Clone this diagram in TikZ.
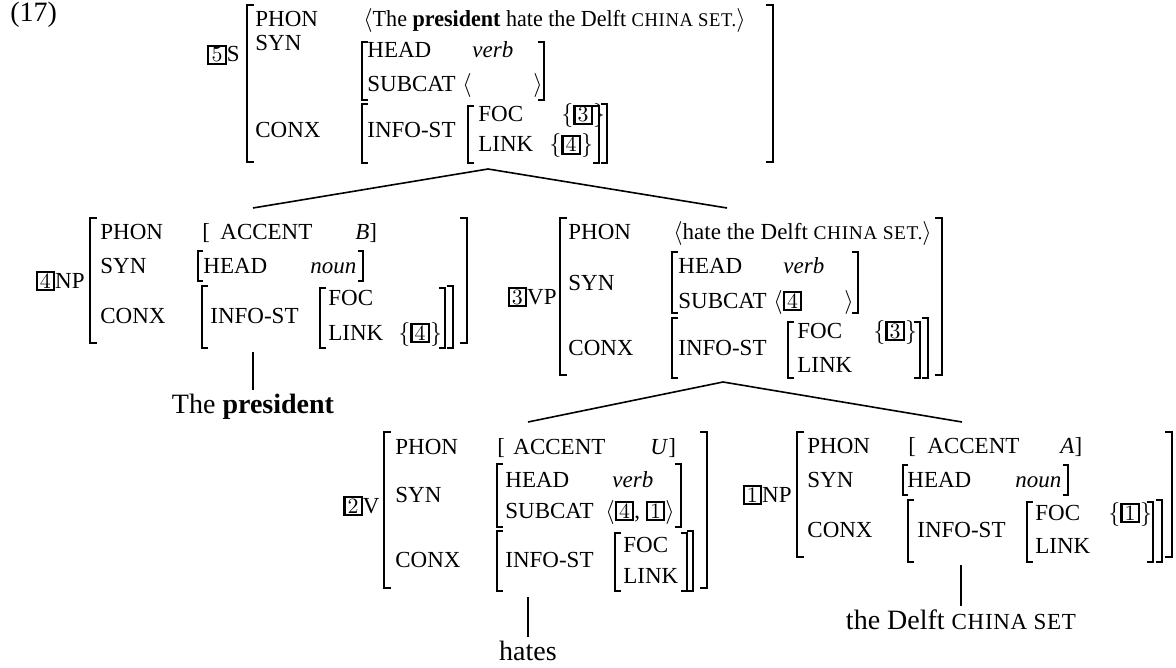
\documentclass[tikz,border=0pt]{standalone}
\usepackage[no-math]{fontspec}
\setmainfont{Liberation Serif}
\usepackage{tikz}
\usetikzlibrary{positioning}
\newcommand{\avmfont}{\fontsize{11.5pt}{13pt}\selectfont}
\newcommand{\wordfont}{\fontsize{14pt}{16pt}\selectfont}
\newcommand{\avmsc}[1]{{\fontsize{9.7pt}{10pt}\selectfont\addfontfeatures{LetterSpace=3}#1}}
\newcommand{\wordsc}[1]{{\fontsize{11.5pt}{12pt}\selectfont\addfontfeatures{LetterSpace=3}#1}}
\newcommand{\tagnum}[1]{{\setlength{\fboxsep}{0.3pt}\setlength{\fboxrule}{1.1pt}%
  \fbox{\makebox[7pt]{\fontsize{10.5pt}{10.5pt}\selectfont$#1$}}}}
% brackets: [serif]{x}{top}{bottom}
\newcommand{\lbrk}[4][7]{\draw[Brk] ({#2+#1},#3) -- (#2,#3) -- (#2,#4) -- ({#2+#1},#4);}
\newcommand{\rbrk}[4][7]{\draw[Brk] ({#2-#1},#3) -- (#2,#3) -- (#2,#4) -- ({#2-#1},#4);}
\tikzset{
Attr/.style={
	anchor=base west,
	inner sep=0pt,
	font=\avmfont
},
Val/.style={
	Attr,
	font=\avmfont\itshape
},
Cat/.style={
	anchor=base east,
	inner sep=0pt,
	font=\avmfont
},
Word/.style={
	anchor=base,
	inner xsep=0pt,
	inner ysep=1.5pt,
	font=\wordfont
},
Brk/.style={
	line width=0.95pt
},
Edge/.style={
	draw=black,
	line width=0.8pt
},
Stem/.style={
	draw=black,
	line width=1pt
}
}

\begin{document}
\begin{tikzpicture}[x=0.5pt, y=-0.5pt]
	\useasboundingbox (0,0) rectangle (1176,668);
	\node[Word, anchor=base west] (ex-num) at (10,22) {(17)};

	% S
	\begin{scope}[shift={(247,5)}]
	\node[Cat] (s-cat) at (-7,57) {\tagnum{5}S};
	\node[Attr] (s-phon) at (8,22) {PHON};
	\node[Attr] (s-phon-v) at (116,22) {\addfontfeatures{FakeStretch=0.96}$\langle$The \textbf{president} hate the Delft \avmsc{CHINA SET.}$\rangle$};
	\node[Attr] (s-syn) at (8,46) {SYN};
	\node[Attr] (s-head) at (120,53) {HEAD};
	\node[Val] (s-head-v) at (225,53) {verb};
	\node[Attr] (s-subcat) at (120,87) {SUBCAT};
	\node[Attr] (s-subcat-l) at (215,87) {$\langle$};
	\node[Attr] (s-subcat-r) at (286,87) {$\rangle$};
	\node[Attr] (s-conx) at (8,133) {CONX};
	\node[Attr] (s-info) at (120,133) {INFO-ST};
	\node[Attr] (s-foc) at (231,117) {FOC};
	\node[Attr] (s-foc-v) at (314,117) {$\{$\tagnum{3}$\}$};
	\node[Attr] (s-link) at (231,147) {LINK};
	\node[Attr] (s-link-v) at (302,147) {$\{$\tagnum{4}$\}$};
	\lbrk{0}{0}{157} \rbrk{526}{0}{157}
	\lbrk[6]{115}{37}{95} \rbrk[6]{297}{37}{95}
	\lbrk[6]{115}{99}{158} \rbrk[6]{360}{99}{158}
	\lbrk[6]{221}{101}{158} \rbrk[6]{352}{101}{158}
	\coordinate (s-foot) at (241,164);
	\end{scope}

	% NP (4)
	\begin{scope}[shift={(90,218)}]
	\node[Cat] (np4-cat) at (-5,70) {\tagnum{4}NP};
	\node[Attr] (np4-phon) at (10,22) {PHON};
	\node[Attr] (np4-acc-l) at (112,22) {[};
	\node[Attr] (np4-acc) at (130,22) {ACCENT};
	\node[Attr] (np4-acc-v) at (265,22) {\textit{B}]};
	\node[Attr] (np4-syn) at (10,55) {SYN};
	\node[Attr] (np4-head) at (113,55) {HEAD};
	\node[Val] (np4-head-v) at (220,55) {noun};
	\node[Attr] (np4-conx) at (10,105) {CONX};
	\node[Attr] (np4-info) at (120,105) {INFO-ST};
	\node[Attr] (np4-foc) at (238,87) {FOC};
	\node[Attr] (np4-link) at (238,122) {LINK};
	\node[Attr] (np4-link-v) at (308,122) {$\{$\tagnum{4}$\}$};
	\lbrk{0}{0}{125} \rbrk{377}{0}{125}
	\lbrk[5]{108}{33}{63} \rbrk[5]{273}{33}{63}
	\lbrk[6]{112}{68}{130} \rbrk[6]{363}{68}{130}
	\lbrk[6]{230}{70}{130} \rbrk[6]{355}{70}{130}
	\coordinate (np4-top) at (163,-10);
	\coordinate (np4-stem) at (163,134);
	\node[Word] (np4-word) at (163,195) {The \textbf{president}};
	\end{scope}

	% VP (3)
	\begin{scope}[shift={(560,218)}]
	\node[Cat] (vp3-cat) at (-3,86) {\tagnum{3}VP};
	\node[Attr] (vp3-phon) at (8,22) {PHON};
	\node[Attr] (vp3-phon-v) at (113,22) {$\langle$hate the Delft \avmsc{CHINA SET.}$\rangle$};
	\node[Attr] (vp3-syn) at (8,72) {SYN};
	\node[Attr] (vp3-head) at (118,55) {HEAD};
	\node[Val] (vp3-head-v) at (223,55) {verb};
	\node[Attr] (vp3-subcat) at (118,90) {SUBCAT};
	\node[Attr] (vp3-subcat-l) at (213,90) {$\langle$\tagnum{4}};
	\node[Attr] (vp3-subcat-r) at (284,90) {$\rangle$};
	\node[Attr] (vp3-conx) at (8,137) {CONX};
	\node[Attr] (vp3-info) at (118,137) {INFO-ST};
	\node[Attr] (vp3-foc) at (237,120) {FOC};
	\node[Attr] (vp3-foc-v) at (313,120) {$\{$\tagnum{3}$\}$};
	\node[Attr] (vp3-link) at (237,154) {LINK};
	\lbrk{0}{0}{157} \rbrk{382}{0}{157}
	\lbrk[6]{112}{34}{95} \rbrk[6]{298}{34}{95}
	\lbrk[6]{112}{100}{160} \rbrk[6]{368}{100}{160}
	\lbrk[6]{228}{104}{160} \rbrk[6]{360}{104}{160}
	\coordinate (vp3-top) at (167,-10);
	\coordinate (vp3-foot) at (163,164);
	\end{scope}

	% V (2)
	\begin{scope}[shift={(384,432)}]
	\node[Cat] (v2-cat) at (-4,81) {\tagnum{2}V};
	\node[Attr] (v2-phon) at (11,22) {PHON};
	\node[Attr] (v2-acc-l) at (113,22) {[};
	\node[Attr] (v2-acc) at (129,22) {ACCENT};
	\node[Attr] (v2-acc-v) at (266,22) {\textit{U}]};
	\node[Attr] (v2-syn) at (11,70) {SYN};
	\node[Attr] (v2-head) at (121,55) {HEAD};
	\node[Val] (v2-head-v) at (228,55) {verb};
	\node[Attr] (v2-subcat) at (121,86) {SUBCAT};
	\node[Attr] (v2-subcat-v) at (221,86) {$\langle$\tagnum{4}, \tagnum{1}$\rangle$};
	\node[Attr] (v2-conx) at (11,135) {CONX};
	\node[Attr] (v2-info) at (121,135) {INFO-ST};
	\node[Attr] (v2-foc) at (239,120) {FOC};
	\node[Attr] (v2-link) at (239,151) {LINK};
	\lbrk{0}{0}{156} \rbrk{323}{0}{156}
	\lbrk[6]{113}{32}{95} \rbrk[6]{297}{32}{95}
	\lbrk[6]{113}{99}{159} \rbrk[6]{309}{99}{159}
	\lbrk[6]{231}{101}{159} \rbrk[6]{303}{101}{159}
	\coordinate (v2-top) at (144,-10);
	\coordinate (v2-stem) at (144,165);
	\node[Word] (v2-word) at (144,228) {hates};
	\end{scope}

	% NP (1)
	\begin{scope}[shift={(797,432)}]
	\node[Cat] (np1-cat) at (-5,70) {\tagnum{1}NP};
	\node[Attr] (np1-phon) at (10,21) {PHON};
	\node[Attr] (np1-acc-l) at (111,21) {[};
	\node[Attr] (np1-acc) at (130,21) {ACCENT};
	\node[Attr] (np1-acc-v) at (263,21) {\textit{A}]};
	\node[Attr] (np1-syn) at (10,55) {SYN};
	\node[Attr] (np1-head) at (110,55) {HEAD};
	\node[Val] (np1-head-v) at (218,55) {noun};
	\node[Attr] (np1-conx) at (10,105) {CONX};
	\node[Attr] (np1-info) at (120,105) {INFO-ST};
	\node[Attr] (np1-foc) at (238,88) {FOC};
	\node[Attr] (np1-foc-v) at (311,88) {$\{$\tagnum{1}$\}$};
	\node[Attr] (np1-link) at (238,121) {LINK};
	\lbrk{0}{0}{125} \rbrk{375}{0}{125}
	\lbrk[5]{106}{33}{63} \rbrk[5]{271}{33}{63}
	\lbrk[6]{111}{68}{130} \rbrk[6]{365}{68}{130}
	\lbrk[6]{230}{70}{130} \rbrk[6]{356}{70}{130}
	\coordinate (np1-top) at (165,-10);
	\coordinate (np1-stem) at (164,133);
	\node[Word] (np1-word) at (164,197) {the Delft \wordsc{CHINA SET}};
	\end{scope}

	\draw[Edge] (s-foot) -- (np4-top);
	\draw[Edge] (s-foot) -- (vp3-top);
	\draw[Edge] (vp3-foot) -- (v2-top);
	\draw[Edge] (vp3-foot) -- (np1-top);
	\draw[Stem] (np4-stem) -- (np4-word);
	\draw[Stem] (v2-stem) -- (v2-word);
	\draw[Stem] (np1-stem) -- (np1-word);
\end{tikzpicture}
\end{document}
